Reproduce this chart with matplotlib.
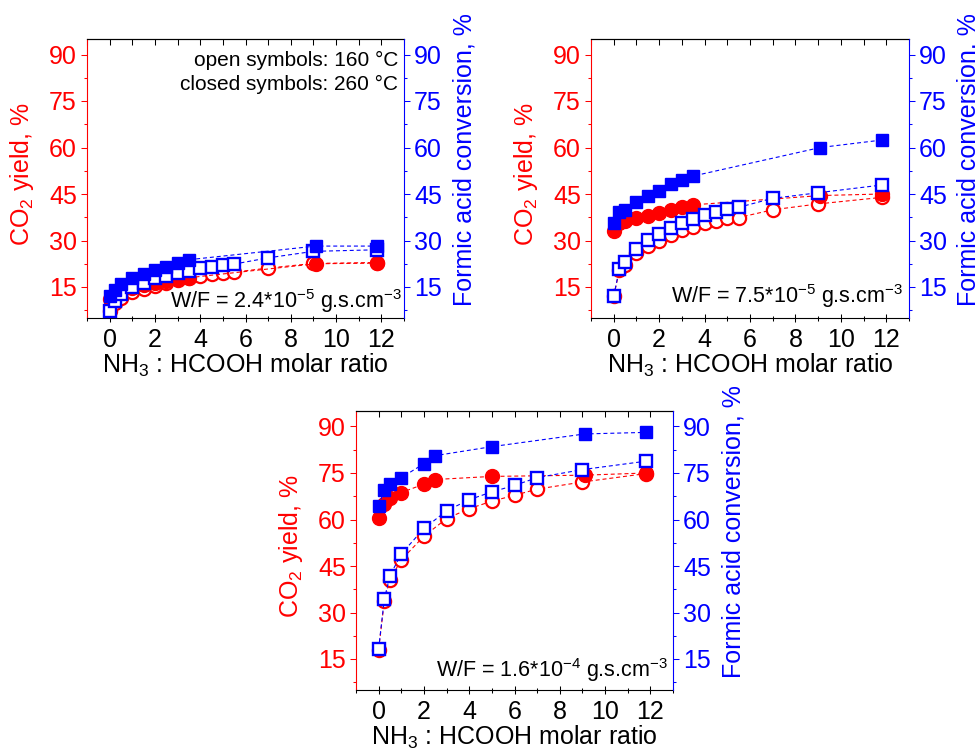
import matplotlib
matplotlib.use("Agg")
import matplotlib.pyplot as plt
from matplotlib.ticker import MultipleLocator

plt.rcParams['font.family'] = ['Liberation Sans', 'DejaVu Sans']
plt.rcParams['mathtext.fontset'] = 'custom'
plt.rcParams['mathtext.rm'] = 'Liberation Sans'
plt.rcParams['mathtext.it'] = 'Liberation Sans:italic'
plt.rcParams['mathtext.bf'] = 'Liberation Sans:bold'

RED = '#ff0000'
BLUE = '#0000ff'

# ---------------- data ----------------
# NH3:HCOOH molar ratios
x_open = [0, 0.25, 0.5, 1, 1.5, 2, 2.5, 3, 3.5, 4, 4.5, 5, 5.5, 7, 9, 11.8]
x_closed = [0, 0.25, 0.5, 1, 1.5, 2, 2.5, 3, 3.5, 9.1, 11.8]
x_open3 = [0, 0.25, 0.5, 1, 2, 3, 4, 5, 6, 7, 9, 11.8]
x_closed3 = [0, 0.25, 0.5, 1, 2, 2.5, 5, 9.1, 11.8]

# Panel 1: W/F = 2.4e-5
p1_yield_open = [7.2, 9.9, 11.6, 13.3, 14.4, 15.4, 16.4, 17.3, 18.0, 18.6, 19.2, 19.5, 19.8, 21.1, 22.6, 22.9]
p1_conv_open = [7.4, 10.4, 12.8, 14.9, 16.3, 17.8, 18.7, 19.6, 20.3, 21.1, 21.6, 22.1, 22.4, 24.4, 26.5, 27.0]
p1_yield_closed = [11.2, 12.5, 13.5, 14.8, 15.6, 16.3, 17.0, 17.6, 18.0, 22.5, 22.7]
p1_conv_closed = [12.0, 14.0, 16.1, 17.9, 19.2, 20.4, 21.6, 22.7, 23.8, 28.2, 28.2]

# Panel 2: W/F = 7.5e-5
p2_yield_open = [12.0, 20.4, 22.2, 25.9, 28.3, 30.0, 31.8, 33.4, 34.5, 35.6, 36.3, 37.2, 37.4, 39.9, 41.8, 43.9]
p2_conv_open = [12.0, 20.9, 23.0, 27.3, 30.2, 32.1, 34.0, 35.6, 37.0, 38.2, 39.1, 40.1, 40.7, 43.6, 45.4, 47.9]
p2_yield_closed = [33.1, 35.6, 36.4, 37.2, 37.9, 39.0, 39.9, 40.7, 41.5, 44.5, 45.0]
p2_conv_closed = [35.8, 39.3, 39.9, 42.3, 44.4, 46.1, 48.1, 49.5, 50.8, 60.0, 62.4]

# Panel 3: W/F = 1.6e-4
p3_yield_open = [18.0, 33.7, 40.6, 47.0, 54.6, 60.3, 63.5, 65.9, 67.8, 69.8, 72.1, 74.8]
p3_conv_open = [18.3, 34.3, 41.9, 48.9, 57.1, 62.8, 66.4, 68.9, 71.0, 73.5, 76.1, 78.8]
p3_yield_closed = [60.4, 65.0, 66.8, 68.7, 71.4, 72.9, 73.9, 74.3, 75.0]
p3_conv_closed = [64.5, 69.4, 71.5, 73.5, 78.0, 80.6, 83.5, 87.6, 88.1]

x_ticks = [0, 2, 4, 6, 8, 10, 12]
y_ticks = [15, 30, 45, 60, 75, 90]

wf_labels = ['W/F = 2.4*10$^{-5}$ g.s.cm$^{-3}$',
             'W/F = 7.5*10$^{-5}$ g.s.cm$^{-3}$',
             'W/F = 1.6*10$^{-4}$ g.s.cm$^{-3}$']
right_labels = ['Formic acid conversion, %', 'Formic acid conversion. %', 'Formic acid conversion, %']
left_label = 'CO$_2$ yield, %'
x_label = 'NH$_3$ : HCOOH molar ratio'
note_lines = ['open symbols: 160 \u00b0C', 'closed symbols: 260 \u00b0C']

panels = [
    dict(pos=[87/977, 1-318/749, 317/977, 279/749], xo=x_open, xc=x_closed,
         yo=p1_yield_open, co=p1_conv_open, yc=p1_yield_closed, cc=p1_conv_closed,
         wf=(0.994, 0.036)),
    dict(pos=[591/977, 1-318/749, 318/977, 279/749], xo=x_open, xc=x_closed,
         yo=p2_yield_open, co=p2_conv_open, yc=p2_yield_closed, cc=p2_conv_closed,
         wf=(0.981, 0.054)),
    dict(pos=[356/977, 1-690/749, 317/977, 279/749], xo=x_open3, xc=x_closed3,
         yo=p3_yield_open, co=p3_conv_open, yc=p3_yield_closed, cc=p3_conv_closed,
         wf=(0.984, 0.047)),
]

fig = plt.figure(figsize=(9.77, 7.49), dpi=100)

TICK_FS = 18
LAB_FS = 18
ls = (0, (3.6, 2.6))
lw = 0.8

for i, p in enumerate(panels):
    ax = fig.add_axes(p['pos'])
    ax2 = ax.twinx()
    for a in (ax, ax2):
        a.set_xlim(-1, 13)
        a.set_ylim(5, 95)
    ax.set_zorder(1)
    ax2.set_zorder(2)
    ax.patch.set_visible(True)
    ax2.patch.set_visible(False)

    # CO2 yield (left, red)
    ax.plot(p['xo'], p['yo'], linestyle=ls, lw=lw, color=RED, marker='o', ms=9.5,
            mfc='white', mec=RED, mew=1.6)
    ax.plot(p['xc'], p['yc'], linestyle=ls, lw=lw, color=RED, marker='o', ms=10,
            mfc=RED, mec=RED, mew=1)
    # conversion (right, blue)
    ax2.plot(p['xo'], p['co'], linestyle=ls, lw=lw, color=BLUE, marker='s', ms=8.2,
             mfc='white', mec=BLUE, mew=1.7)
    ax2.plot(p['xc'], p['cc'], linestyle=ls, lw=lw, color=BLUE, marker='s', ms=8.7,
             mfc=BLUE, mec=BLUE, mew=1)

    # spines
    for s in ax.spines.values():
        s.set_linewidth(0.8)
    ax.spines['left'].set_color(RED)
    ax.spines['right'].set_visible(False)
    ax.spines['top'].set_color('black')
    ax.spines['bottom'].set_color('black')
    for nm in ('left', 'top', 'bottom'):
        ax2.spines[nm].set_visible(False)
    ax2.spines['right'].set_color(BLUE)
    ax2.spines['right'].set_linewidth(0.8)

    # x ticks
    ax.set_xticks(x_ticks)
    ax.xaxis.set_minor_locator(MultipleLocator(1))
    ax.tick_params(axis='x', which='major', direction='inout', length=5.8, width=0.75,
                   labelsize=TICK_FS, pad=4, colors='black', top=False)
    ax.tick_params(axis='x', which='minor', direction='inout', length=3.6, width=0.75, top=False)
    ax2.tick_params(axis='x', which='both', bottom=False, top=False, labelbottom=False)
    sec = ax.secondary_xaxis('top')
    sec.set_xticks(x_ticks)
    sec.xaxis.set_minor_locator(MultipleLocator(1))
    sec.tick_params(axis='x', which='major', direction='in', length=4.3, width=0.75, labeltop=False)
    sec.tick_params(axis='x', which='minor', direction='in', length=4.3, width=0.75)
    sec.spines['top'].set_linewidth(0.8)

    # y ticks
    ax.set_yticks(y_ticks)
    ax.yaxis.set_minor_locator(MultipleLocator(7.5))
    ax.tick_params(axis='y', which='major', direction='out', length=4.3, width=0.75,
                   labelsize=TICK_FS, colors=RED, pad=3, right=False)
    ax.tick_params(axis='y', which='minor', direction='out', length=2.4, width=0.75,
                   colors=RED, right=False)
    ax2.set_yticks(y_ticks)
    ax2.yaxis.set_minor_locator(MultipleLocator(7.5))
    ax2.tick_params(axis='y', which='major', direction='out', length=4.3, width=0.75,
                    labelsize=TICK_FS, colors=BLUE, pad=3, left=False)
    ax2.tick_params(axis='y', which='minor', direction='out', length=2.4, width=0.75,
                    colors=BLUE, left=False)

    # labels
    ax.set_ylabel(left_label, color=RED, fontsize=LAB_FS, va='center')
    ax.yaxis.set_label_coords(-0.205, 0.515)
    ax2.set_ylabel(right_labels[i], color=BLUE, fontsize=LAB_FS, va='center', rotation=90)
    ax2.yaxis.set_label_coords(1.19, 0.567)
    ax.set_xlabel(x_label, fontsize=LAB_FS, va='baseline')
    ax.xaxis.set_label_coords(0.5, -0.197)

    ax2.text(p['wf'][0], p['wf'][1], wf_labels[i], transform=ax.transAxes,
             ha='right', va='baseline', fontsize=15.5, color='black')

    if i == 0:
        ax2.text(0.981, 0.903, note_lines[0], transform=ax.transAxes,
                 ha='right', va='baseline', fontsize=15, color='black')
        ax2.text(0.981, 0.817, note_lines[1], transform=ax.transAxes,
                 ha='right', va='baseline', fontsize=15, color='black')

fig.savefig('out.png', dpi=100)
